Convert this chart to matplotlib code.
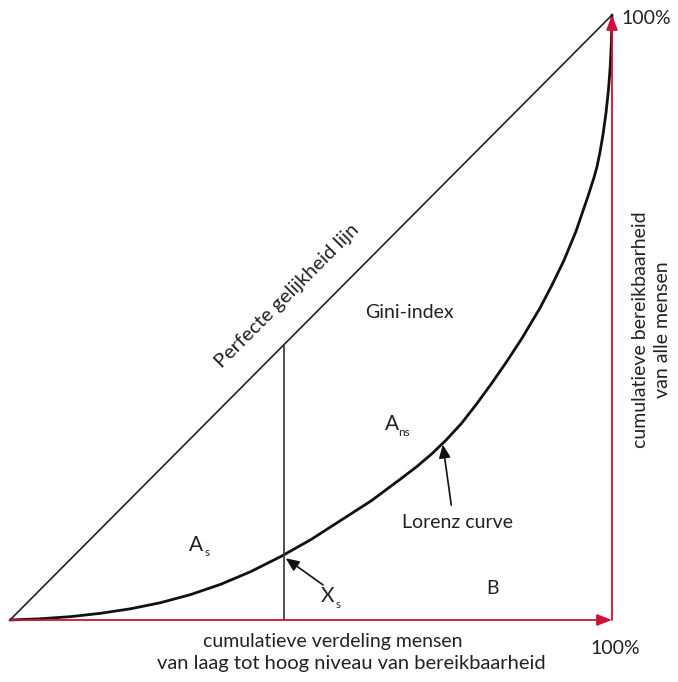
import matplotlib.pyplot as plt

plt.rcParams['font.family'] = ['Lato', 'DejaVu Sans']

# Lorenz curve (fraction of people, fraction of accessibility)
curve_x = [0, 0.05, 0.10, 0.15, 0.20, 0.25, 0.30, 0.35, 0.40, 0.45, 0.50, 0.55,
           0.60, 0.65, 0.675, 0.70, 0.725, 0.75, 0.775, 0.80, 0.825, 0.85, 0.88,
           0.90, 0.92, 0.94, 0.96, 0.97, 0.975, 0.98, 0.985, 0.99, 0.994, 0.997,
           0.999, 1.0]
curve_y = [0, 0.002, 0.0055, 0.011, 0.0185, 0.0286, 0.042, 0.059, 0.080, 0.105,
           0.133, 0.165, 0.197, 0.234, 0.253, 0.274, 0.298, 0.325, 0.357, 0.391,
           0.427, 0.465, 0.515, 0.553, 0.594, 0.642, 0.700, 0.731, 0.749, 0.773,
           0.802, 0.838, 0.875, 0.914, 0.955, 1.0]

equal_x = [0, 1]
equal_y = [0, 1]

xs = 0.455
xs_curve = 0.106

red = '#d0103a'
txt = '#222222'

fig = plt.figure(figsize=(6.78, 6.82), dpi=100)
ax = fig.add_axes([10 / 678, 62 / 682, 602 / 678, 605 / 682])
ax.set_xlim(0, 1)
ax.set_ylim(0, 1)
ax.axis('off')

# red axes arrows
ax.annotate('', xy=(1, 0), xytext=(0, 0),
            arrowprops=dict(arrowstyle='-|>,head_length=0.9,head_width=0.35',
                            color=red, lw=1.3, shrinkA=0, shrinkB=0),
            annotation_clip=False)
ax.annotate('', xy=(1, 1), xytext=(1, 0),
            arrowprops=dict(arrowstyle='-|>,head_length=0.9,head_width=0.35',
                            color=red, lw=1.3, shrinkA=0, shrinkB=0),
            annotation_clip=False)

ax.plot(equal_x, equal_y, color='#222222', lw=1.2, clip_on=False)
ax.plot(curve_x, curve_y, color='#111111', lw=2.0, clip_on=False,
        solid_capstyle='round', solid_joinstyle='round')
ax.plot([xs, xs], [0, xs], color='#333333', lw=1.2)

# arrows to curve
ax.annotate('', xy=(0.719, 0.290), xytext=(0.733, 0.19),
            arrowprops=dict(arrowstyle='-|>,head_length=0.8,head_width=0.35',
                            color='#111111', lw=1.2, shrinkA=0, shrinkB=0))
ax.annotate('', xy=(xs + 0.003, xs_curve - 0.004), xytext=(0.52, 0.058),
            arrowprops=dict(arrowstyle='-|>,head_length=0.8,head_width=0.35',
                            color='#111111', lw=1.2, shrinkA=0, shrinkB=0))

def px(x, y):
    return ((x - 10) / 602, (620 - y) / 605)

def label(x, y, s, size=14, **kw):
    ax.text(*px(x, y), s, fontsize=size, color=txt, ha='center', va='center',
            clip_on=False, **kw)

label(646, 18, '100%', size=14)
label(615, 649, '100%', size=14)
label(333, 641, 'cumulatieve verdeling mensen')
label(351, 664, 'van laag tot hoog niveau van bereikbaarheid', size=14.5)
label(641, 330, 'cumulatieve bereikbaarheid', rotation=90)
label(662, 330, 'van alle mensen', rotation=90)
label(287, 296, 'Perfecte gelijkheid lijn', size=14.5, rotation=45)
label(409, 312, 'Gini-index')
label(457, 522, 'Lorenz curve')
label(492, 588, 'B')
label(392, 424, 'A', size=15)
label(404, 432, 'ns', size=8.5)
label(196, 545, 'A', size=15)
label(207, 553, 's', size=8.5)
label(328, 596, 'X', size=15)
label(338, 604, 's', size=8.5)

fig.savefig('out.png', dpi=100)
